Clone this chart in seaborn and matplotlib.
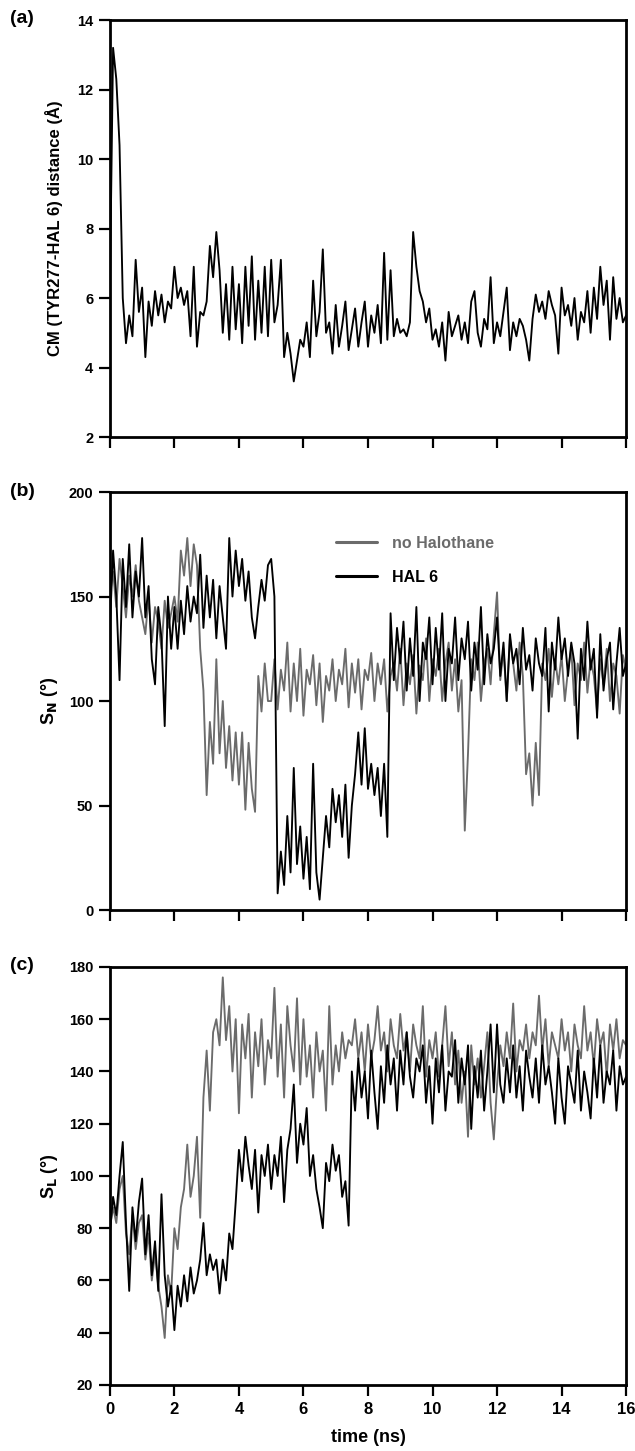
import numpy as np
import pandas as pd
import matplotlib
matplotlib.use('Agg')
import matplotlib.pyplot as plt
import seaborn as sns

# values, one sample every 0.1 ns (0 .. 16 ns)
time_ns = np.round(np.arange(161) * 0.1, 1)

# (a) CM (TYR277-HAL 6) distance, Angstrom
dist_hal6 = [
    6.2, 13.2, 12.3, 10.4, 6.0, 4.7, 5.5, 4.9, 7.1, 5.6,
    6.3, 4.3, 5.9, 5.2, 6.2, 5.5, 6.1, 5.3, 5.9, 5.7,
    6.9, 6.0, 6.3, 5.8, 6.2, 4.9, 6.9, 4.6, 5.6, 5.5,
    5.9, 7.5, 6.6, 7.9, 6.8, 5.0, 6.4, 4.8, 6.9, 5.1,
    6.4, 4.7, 6.9, 5.2, 7.2, 4.8, 6.5, 5.0, 6.9, 4.9,
    7.1, 5.3, 5.8, 7.1, 4.3, 5.0, 4.4, 3.6, 4.2, 4.8,
    4.6, 5.3, 4.3, 6.5, 4.9, 5.6, 7.4, 5.0, 5.3, 4.4,
    5.8, 4.6, 5.2, 5.9, 4.5, 5.1, 5.7, 4.6, 5.3, 5.9,
    4.6, 5.5, 5.0, 5.8, 4.7, 7.3, 4.8, 6.8, 4.9, 5.4,
    5.0, 5.1, 4.9, 5.3, 7.9, 6.9, 6.2, 5.9, 5.3, 5.7,
    4.8, 5.1, 4.6, 5.3, 4.2, 5.6, 4.9, 5.2, 5.5, 4.8,
    5.3, 4.7, 5.9, 6.2, 5.0, 4.6, 5.4, 5.1, 6.6, 4.7,
    5.3, 4.9, 5.6, 6.3, 4.5, 5.3, 4.9, 5.4, 5.2, 4.8,
    4.2, 5.4, 6.1, 5.6, 5.9, 5.4, 6.2, 5.8, 5.5, 4.4,
    6.3, 5.5, 5.8, 5.2, 6.0, 4.8, 5.6, 5.3, 6.2, 5.0,
    6.3, 5.4, 6.9, 5.8, 6.5, 4.8, 6.6, 5.4, 6.0, 5.3,
    5.5]

# (b) S_N angle, degrees
sn_nohal = [
    150, 162, 145, 168, 155, 140, 160, 150, 165, 148,
    140, 132, 150, 128, 145, 138, 125, 148, 135, 142,
    150, 138, 172, 160, 178, 155, 175, 165, 125, 105,
    55, 90, 70, 120, 75, 100, 68, 88, 62, 85,
    60, 85, 48, 80, 58, 47, 112, 95, 118, 100,
    100, 120, 96, 115, 105, 128, 95, 118, 100, 125,
    93, 115, 108, 122, 98, 118, 90, 112, 105, 120,
    100, 115, 108, 125, 97, 118, 104, 120, 96, 115,
    110, 123, 100, 118, 108, 120, 95, 112, 118, 105,
    125, 98, 118, 108, 122, 94, 117, 110, 130, 100,
    120, 112, 125, 100, 118, 128, 105, 120, 95, 110,
    38, 75, 120, 110, 128, 100, 118, 125, 108, 132,
    152, 110, 125, 100, 130, 118, 105, 128, 112, 65,
    75, 50, 80, 55, 118, 110, 125, 102, 120, 108,
    122, 100, 115, 125, 98, 118, 110, 128, 104, 120,
    112, 95, 120, 108, 125, 100, 118, 112, 94, 122,
    115]

sn_hal6 = [
    135, 172, 150, 110, 168, 145, 175, 140, 162, 150,
    178, 140, 155, 120, 108, 145, 130, 88, 150, 125,
    145, 125, 148, 132, 155, 138, 150, 142, 170, 135,
    160, 140, 158, 130, 155, 140, 125, 178, 150, 172,
    155, 168, 148, 162, 140, 130, 145, 158, 148, 165,
    168, 150, 8, 28, 12, 45, 18, 68, 22, 40,
    15, 35, 10, 70, 18, 5, 25, 45, 30, 58,
    42, 55, 35, 60, 25, 50, 65, 85, 60, 87,
    58, 70, 55, 68, 45, 70, 35, 142, 110, 135,
    118, 138, 105, 130, 112, 145, 100, 128, 120, 140,
    108, 135, 115, 142, 100, 125, 118, 140, 110, 130,
    120, 138, 105, 128, 115, 145, 108, 132, 118, 125,
    140, 112, 128, 100, 132, 118, 125, 108, 135, 115,
    122, 105, 130, 118, 112, 135, 95, 128, 115, 140,
    120, 130, 112, 128, 118, 82, 125, 110, 138, 115,
    125, 92, 132, 105, 120, 128, 96, 118, 135, 112,
    118]

# (c) S_L angle, degrees
sl_nohal = [
    80, 88, 82, 95, 100, 78, 70, 85, 72, 82,
    85, 68, 78, 60, 70, 58, 50, 38, 62, 55,
    80, 72, 88, 95, 112, 92, 100, 115, 84, 130,
    148, 125, 155, 160, 150, 176, 152, 165, 140, 160,
    124, 158, 145, 162, 130, 155, 142, 160, 135, 152,
    145, 172, 138, 158, 130, 165, 150, 140, 168, 135,
    160, 138, 150, 130, 155, 140, 148, 125, 165, 135,
    150, 140, 155, 145, 152, 150, 160, 145, 155, 140,
    158, 145, 152, 165, 148, 155, 140, 160, 150, 145,
    162, 148, 155, 140, 158, 150, 145, 165, 138, 152,
    145, 155, 138, 150, 165, 142, 155, 135, 148, 128,
    140, 115, 150, 135, 145, 130, 142, 155, 128, 114,
    135, 150, 142, 155, 145, 166, 140, 152, 148, 158,
    145, 155, 150, 169, 148, 160, 142, 155, 150, 145,
    160, 148, 155, 140, 158, 150, 145, 165, 148, 155,
    142, 160, 150, 155, 138, 158, 148, 160, 145, 152,
    150]

sl_hal6 = [
    78, 92, 85, 100, 113, 82, 56, 88, 75, 90,
    99, 70, 85, 62, 75, 56, 93, 62, 50, 58,
    41, 58, 50, 62, 52, 65, 55, 60, 68, 82,
    62, 70, 64, 68, 55, 68, 60, 78, 72, 90,
    110, 98, 115, 104, 95, 110, 86, 108, 100, 112,
    95, 108, 100, 115, 90, 110, 118, 135, 105, 120,
    112, 126, 100, 108, 95, 88, 80, 105, 98, 112,
    102, 108, 92, 98, 81, 140, 125, 145, 130, 140,
    122, 148, 132, 118, 142, 128, 150, 135, 145, 125,
    148, 135, 155, 138, 130, 145, 140, 150, 128, 142,
    120, 145, 132, 150, 125, 140, 138, 152, 128, 145,
    135, 150, 118, 142, 130, 148, 125, 140, 158, 132,
    158, 135, 128, 145, 132, 150, 130, 142, 125, 148,
    138, 130, 145, 128, 150, 135, 142, 132, 120, 145,
    130, 120, 142, 135, 128, 148, 125, 140, 132, 122,
    145, 130, 150, 128, 140, 135, 148, 125, 142, 135,
    138]

x_ticks = [0, 2, 4, 6, 8, 10, 12, 14, 16]
gray = '#6b6b6b'

sns.set_style('ticks')
plt.rcParams['font.family'] = ['Liberation Sans', 'DejaVu Sans']
plt.rcParams['font.weight'] = 'bold'
plt.rcParams['mathtext.default'] = 'bf'
for key in ('text.color', 'axes.labelcolor', 'xtick.color', 'ytick.color', 'axes.edgecolor'):
    plt.rcParams[key] = 'black'

fig = plt.figure(figsize=(6.35, 14.51), dpi=100)
ax_a = fig.add_axes([0.173, 0.6988, 0.813, 0.2874])
ax_b = fig.add_axes([0.173, 0.3728, 0.813, 0.2881])
ax_c = fig.add_axes([0.173, 0.0455, 0.813, 0.2881])

lw = 1.35
sns.lineplot(x=time_ns, y=dist_hal6, color='black', lw=lw, ax=ax_a)

sns.lineplot(x=time_ns, y=sn_nohal, color=gray, lw=lw, label='no Halothane', ax=ax_b)
sns.lineplot(x=time_ns, y=sn_hal6, color='black', lw=lw, label='HAL 6', ax=ax_b)

sns.lineplot(x=time_ns, y=sl_nohal, color=gray, lw=lw, ax=ax_c)
sns.lineplot(x=time_ns, y=sl_hal6, color='black', lw=lw, ax=ax_c)

ax_a.set_ylim(2, 14)
ax_a.set_yticks([2, 4, 6, 8, 10, 12, 14])
ax_b.set_ylim(0, 200)
ax_b.set_yticks([0, 50, 100, 150, 200])
ax_c.set_ylim(20, 180)
ax_c.set_yticks([20, 40, 60, 80, 100, 120, 140, 160, 180])

for ax in (ax_a, ax_b, ax_c):
    ax.set_xlim(0, 16)
    ax.set_xticks(x_ticks)
    for s in ax.spines.values():
        s.set_linewidth(2)
        s.set_visible(True)
        s.set_color('black')
    ax.tick_params(direction='out', length=8, width=1.6, labelsize=10.5, pad=4,
                   colors='black')
    for lbl in ax.get_yticklabels():
        lbl.set_fontweight('bold')

ax_a.set_xticklabels([])
ax_b.set_xticklabels([])
for lbl in ax_c.get_xticklabels():
    lbl.set_fontweight('bold')
    lbl.set_fontsize(12)

ax_a.set_ylabel('CM (TYR277-HAL 6) distance (Å)', fontsize=12, fontweight='bold', labelpad=10)
ax_b.set_ylabel(r'S$_{N}$ (°)', fontsize=13, fontweight='bold', labelpad=6)
ax_c.set_ylabel(r'S$_{L}$ (°)', fontsize=13, fontweight='bold', labelpad=6)
ax_c.set_xlabel('time (ns)', fontsize=13, fontweight='bold', labelpad=9)

leg = ax_b.legend(loc='upper left', bbox_to_anchor=(0.41, 0.93), frameon=False,
                  handlelength=2.6, handletextpad=0.9, labelspacing=1.2,
                  labelcolor='linecolor', prop={'weight': 'bold', 'size': 11.5})
for h in leg.legend_handles:
    h.set_linewidth(2.2)

fig.text(0.015, 0.9875, '(a)', fontsize=14, fontweight='bold', va='center')
fig.text(0.015, 0.6615, '(b)', fontsize=14, fontweight='bold', va='center')
fig.text(0.015, 0.3345, '(c)', fontsize=14, fontweight='bold', va='center')

fig.savefig('out.png', dpi=100)
